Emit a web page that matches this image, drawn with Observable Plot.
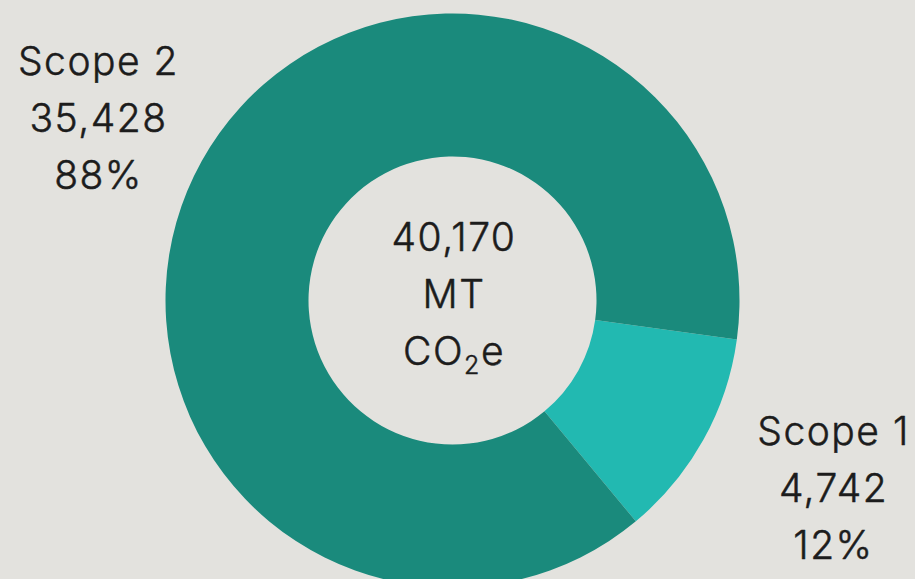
<!DOCTYPE html>
<html>
<head>
<meta charset="utf-8">
<script src="https://cdn.jsdelivr.net/npm/d3@7"></script>
<script src="https://cdn.jsdelivr.net/npm/@observablehq/plot@0.6"></script>
<style>
  html, body { margin: 0; padding: 0; background: #e3e2de; }
  #chart { width: 915px; height: 579px; overflow: hidden; }
</style>
</head>
<body>
<div id="chart"></div>
<script>
// ---- data ----
const categories = ["Scope 1", "Scope 2"];
const values = [4742, 35428];
const unitLines = ["MT", "CO₂e"];

// ---- layout (pixels) ----
const W = 915, H = 579;
const center = {x: 452.5, y: 300.5};
const outerR = 287, innerR = 144;
const startDeg = 97.8; // clockwise from 12 o'clock
const labelPos = [{x: 833, y: 483}, {x: 98, y: 113}];

const total = d3.sum(values);
const rows = categories.map((c, i) => ({
  category: c,
  value: values[i],
  share: values[i] / total,
  lx: labelPos[i].x,
  ly: labelPos[i].y
}));
rows.forEach(r => {
  r.label = `${r.category}\n${d3.format(",")(r.value)}\n${d3.format(".0%")(r.share)}`;
});

const pieMark = (index, scales) => {
  const sx = scales && scales.x ? scales.x : (v => v);
  const sy = scales && scales.y ? scales.y : (v => v);
  const col = scales && scales.color ? scales.color : (c => c === "Scope 1" ? "#22b9b1" : "#1a8a7c");
  const a0 = startDeg * Math.PI / 180;
  const arcs = d3.pie().sort(null).value(d => d.value).startAngle(a0).endAngle(a0 + 2 * Math.PI)(rows);
  const arc = d3.arc().innerRadius(innerR).outerRadius(outerR);
  const g = d3.create("svg:g").attr("transform", `translate(${sx(center.x)},${sy(center.y)})`);
  g.selectAll("path").data(arcs).join("path")
    .attr("d", arc)
    .attr("fill", d => col(d.data.category));
  return g.node();
};

const textStyle = {
  fontSize: 39, fontWeight: 300, lineHeight: 57 / 39, lineAnchor: "middle",
  fill: "#1c1c1c", stroke: "#1c1c1c", strokeWidth: 0.5
};

const chart = Plot.plot({
  width: W,
  height: H,
  margin: 0,
  x: {domain: [0, W], range: [0, W], axis: null},
  y: {domain: [0, H], range: [0, H], axis: null},
  color: {domain: categories, range: ["#22b9b1", "#1a8a7c"]},
  style: {background: "#e3e2de", fontFamily: "Inter", color: "#1c1c1c", letterSpacing: "1.5px"},
  marks: [
    pieMark,
    Plot.text(rows, {x: "lx", y: "ly", text: "label", ...textStyle}),
    Plot.text([[d3.format(",")(total), ...unitLines].join("\n")], {x: center.x + 1, y: center.y - 11.5, text: d => d, ...textStyle})
  ]
});
document.getElementById("chart").append(chart);

// render the chemical subscript as a lowered, smaller "2"
d3.select(chart).selectAll("tspan").each(function() {
  const t = this.textContent;
  if (t === "CO₂e") {
    const sel = d3.select(this);
    sel.text(null);
    sel.append("tspan").text("CO");
    sel.append("tspan").attr("font-size", "25px").attr("dy", 9).text("2");
    sel.append("tspan").attr("dy", -9).text("e");
  }
});
</script>
</body>
</html>
